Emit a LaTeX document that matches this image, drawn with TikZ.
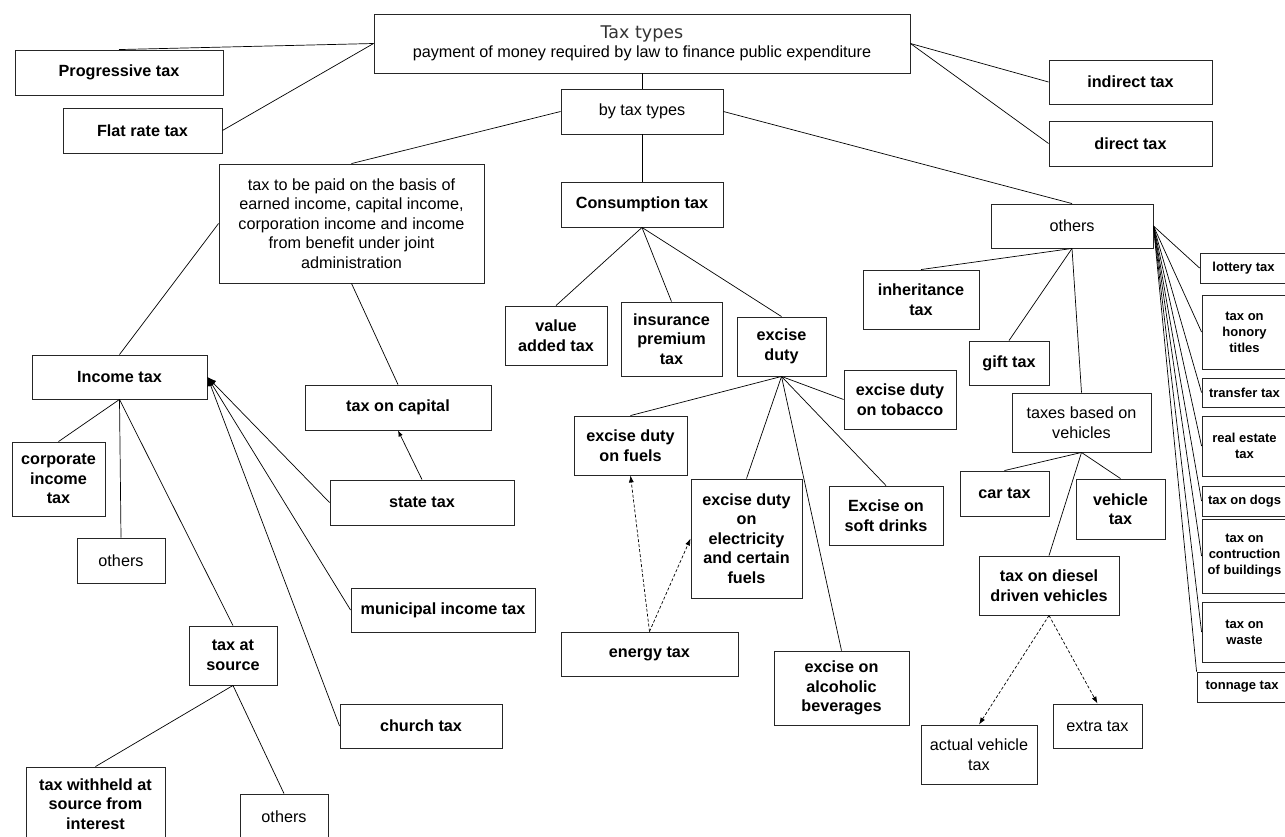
\documentclass[tikz,border=0pt]{standalone}
\usepackage{fontspec}
\setmainfont{Liberation Sans}
\newfontfamily\titlefont{DejaVu Sans}
\usetikzlibrary{arrows.meta}

% \taxbox[style]{name}{left}{top}{right}{bottom}{text}
\newcommand\taxbox[7][]{%
  \node[box,#1,minimum width={(#5)-(#3)},minimum height={(#6)-(#4)}]
    (#2) at ({((#3)+(#5))/2},{((#4)+(#6))/2}) {#7};}

\tikzset{
  box/.style={draw=black!85, line width=0.9pt, inner sep=0pt, align=center,
    fill=white, font=\bfseries\fontsize{16.2}{19.5}\selectfont},
  plain/.style={font=\fontsize{16.2}{19.5}\selectfont},
  small/.style={font=\bfseries\fontsize{13}{16}\selectfont},
  link/.style={draw=black, line width=0.7pt},
  bigarrow/.style={link, -{Latex[length=9pt,width=7pt]}},
  smallarrow/.style={link, -{Latex[length=6pt,width=4.5pt]}},
  dasharrow/.style={link, dash pattern=on 3pt off 2pt, -{Latex[length=7pt,width=5pt]}}
}

\begin{document}
\begin{tikzpicture}[x=1pt,y=-1pt]
\clip (0,0) rectangle (1285,836);
\fill[white] (0,0) rectangle (1285,836);

% root and its direct neighbours
\taxbox[plain]{top}{374}{14}{910}{73}{{\titlefont\color{black!80}\fontsize{17.5}{20}\selectfont Tax types}\\payment of money required by law to finance public expenditure}
\taxbox{prog}{15}{50}{223}{95}{Progressive tax}
\taxbox{flat}{63}{108}{222}{153}{Flat rate tax}
\taxbox{ind}{1049}{60}{1212}{104}{indirect tax}
\taxbox{dir}{1049}{121}{1212}{166}{direct tax}
\taxbox[plain]{by}{561}{89}{723}{134}{by tax types}

% income based taxes
\taxbox[plain]{basis}{219}{164}{484}{283}{tax to be paid on the basis of\\earned income, capital income,\\corporation income and income\\from benefit under joint\\administration}
\taxbox{inc}{32}{355}{207}{399}{Income tax}
\taxbox{corp}{12}{442}{105}{516}{corporate\\income\\tax}
\taxbox[plain]{othA}{77}{538}{165}{583}{others}
\taxbox{cap}{305}{385}{491}{430}{tax on capital}
\taxbox{state}{330}{480}{514}{525}{state tax}
\taxbox{muni}{351}{588}{535}{632}{municipal income tax}
\taxbox{church}{340}{704}{502}{748}{church tax}
\taxbox{src}{189}{626}{277}{685}{tax at\\source}
\taxbox{withheld}{26}{767}{165}{841}{tax withheld at\\source from\\interest}
\taxbox[plain]{othB}{240}{794}{328}{840}{others}

% consumption taxes
\taxbox{cons}{561}{182}{723}{227}{Consumption tax}
\taxbox{vat}{505}{306}{607}{365}{value\\added tax}
\taxbox{ins}{621}{302}{722}{376}{insurance\\premium\\tax}
\taxbox{exc}{737}{317}{826}{376}{excise\\duty}
\taxbox{tob}{844}{370}{956}{429}{excise duty\\on tobacco}
\taxbox{fuel}{574}{416}{687}{475}{excise duty\\on fuels}
\taxbox{elec}{691}{479}{802}{598}{excise duty\\on\\electricity\\and certain\\fuels}
\taxbox{soft}{829}{486}{943}{545}{Excise on\\soft drinks}
\taxbox{energy}{561}{632}{738}{676}{energy tax}
\taxbox{alc}{774}{651}{909}{725}{excise on\\alcoholic\\beverages}

% other taxes
\taxbox[plain]{oth}{991}{204}{1153}{248}{others}
\taxbox{inh}{863}{270}{979}{329}{inheritance\\tax}
\taxbox{gift}{969}{341}{1049}{385}{gift tax}
\taxbox[plain]{veh}{1012}{393}{1151}{452}{taxes based on\\vehicles}
\taxbox{car}{960}{471}{1049}{516}{car tax}
\taxbox{vtax}{1076}{479}{1165}{539}{vehicle\\tax}
\taxbox{diesel}{979}{556}{1119}{615}{tax on diesel\\driven vehicles}
\taxbox[plain]{actual}{921}{725}{1037}{784}{actual vehicle\\tax}
\taxbox[plain]{extra}{1053}{704}{1142}{748}{extra tax}

% right-hand column
\taxbox[small]{lottery}{1200}{253}{1287}{283}{lottery tax}
\taxbox[small]{honor}{1202}{295}{1287}{369}{tax on\\honory\\titles}
\taxbox[small]{transfer}{1202}{378}{1287}{407}{transfer tax}
\taxbox[small]{realest}{1202}{416}{1287}{476}{real estate\\tax}
\taxbox[small]{dogs}{1202}{486}{1287}{516}{tax on dogs}
\taxbox[small]{constr}{1202}{519}{1287}{593}{tax on\\contruction\\of buildings}
\taxbox[small]{waste}{1202}{602}{1287}{662}{tax on\\waste}
\taxbox[small]{tonnage}{1197}{672}{1287}{702}{tonnage tax}

% connectors
\draw[link] (top.west) -- (prog.north);
\draw[link] (top.west) -- (flat.east);
\draw[link] (top.east) -- (ind.west);
\draw[link] (top.east) -- (dir.west);
\draw[link] (top.south) -- (by.north);
\draw[link] (by.west) -- (basis.north);
\draw[link] (by.south) -- (cons.north);
\draw[link] (by.east) -- (oth.north);

\draw[link] (basis.west) -- (inc.north);
\draw[link] (basis.south) -- (cap.north);
\draw[smallarrow] (state.north) -- (cap.south);
\draw[bigarrow] (state.west) -- (inc.east);
\draw[bigarrow] (muni.west) -- (inc.east);
\draw[bigarrow] (church.west) -- (inc.east);
\draw[link] (inc.south) -- (corp.north);
\draw[link] (inc.south) -- (othA.north);
\draw[link] (inc.south) -- (src.north);
\draw[link] (src.south) -- (withheld.north);
\draw[link] (src.south) -- (othB.north);

\draw[link] (cons.south) -- (vat.north);
\draw[link] (cons.south) -- (ins.north);
\draw[link] (cons.south) -- (exc.north);
\draw[link] (exc.south) -- (fuel.north);
\draw[link] (exc.south) -- (tob.west);
\draw[link] (exc.south) -- (elec.north);
\draw[link] (exc.south) -- (soft.north);
\draw[link] (exc.south) -- (alc.north);
\draw[dasharrow] (energy.north) -- (fuel.south);
\draw[dasharrow] (energy.north) -- (elec.west);

\draw[link] (oth.south) -- (inh.north);
\draw[link] (oth.south) -- (gift.north);
\draw[link] (oth.south) -- (veh.north);
\draw[link] (veh.south) -- (car.north);
\draw[link] (veh.south) -- (vtax.north);
\draw[link] (veh.south) -- (diesel.north);
\draw[dasharrow] (diesel.south) -- (actual.north);
\draw[dasharrow] (diesel.south) -- (extra.north);

\foreach \t in {lottery,honor,transfer,realest,dogs,constr,waste}
  \draw[link] (oth.east) -- (\t.west);
\draw[link] (oth.east) -- (tonnage.north west);
\end{tikzpicture}
\end{document}
